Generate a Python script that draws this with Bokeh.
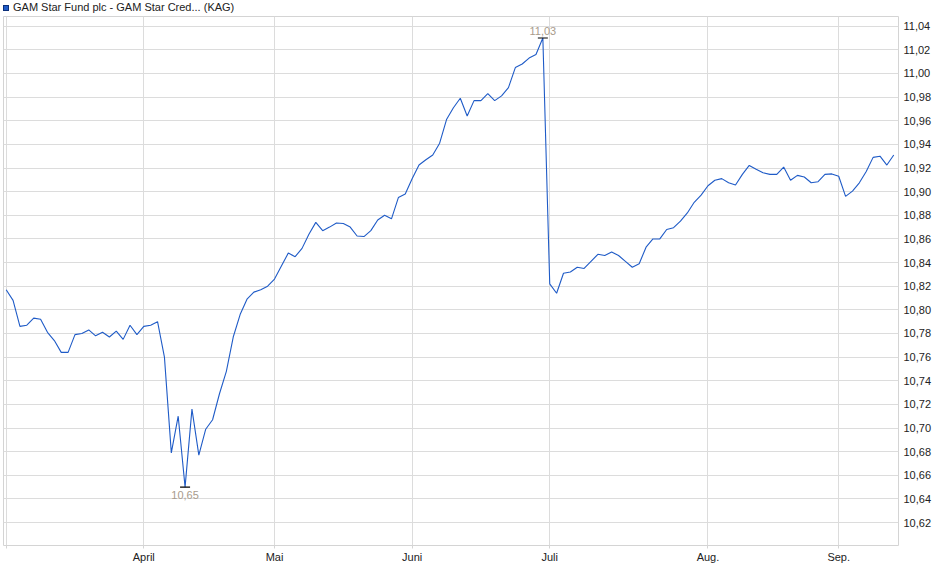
from bokeh.plotting import figure
from bokeh.layouts import column
from bokeh.models import (ColumnDataSource, FixedTicker, CustomJSTickFormatter, Label,
                          Range1d, Div)
from bokeh.embed import file_html
from bokeh.resources import INLINE

# ---------------- data ----------------
series_name = "GAM Star Fund plc - GAM Star Cred... (KAG)"

prices = [
    10.817, 10.808, 10.786, 10.787, 10.793, 10.792, 10.781, 10.774, 10.764, 10.764,
    10.779, 10.780, 10.783, 10.778, 10.781, 10.777, 10.782, 10.775, 10.787, 10.779,
    10.786, 10.787, 10.790, 10.760, 10.679, 10.710, 10.650, 10.716, 10.677, 10.699,
    10.707, 10.729, 10.748, 10.777, 10.796, 10.809, 10.815, 10.817, 10.820, 10.826,
    10.837, 10.848, 10.845, 10.852, 10.864, 10.874, 10.867, 10.870, 10.8735, 10.873,
    10.870, 10.8625, 10.862, 10.867, 10.876, 10.880, 10.877, 10.895, 10.898, 10.911,
    10.9225, 10.927, 10.931, 10.941, 10.961, 10.971, 10.979, 10.964, 10.977, 10.977,
    10.983, 10.977, 10.981, 10.988, 11.005, 11.008, 11.013, 11.016, 11.030, 10.822,
    10.814, 10.831, 10.832, 10.836, 10.835, 10.841, 10.847, 10.846, 10.849, 10.846,
    10.841, 10.836, 10.839, 10.853, 10.860, 10.860, 10.868, 10.8695, 10.875, 10.882,
    10.891, 10.897, 10.905, 10.9096, 10.911, 10.9075, 10.9056, 10.9146, 10.9222, 10.919,
    10.916, 10.9146, 10.9146, 10.9208, 10.9096, 10.9138, 10.9124, 10.9075, 10.9084, 10.9146,
    10.915, 10.913, 10.896, 10.9005, 10.9075, 10.917, 10.929, 10.930, 10.9225, 10.931,
]

# month labels and the trading-day index where each month starts
month_names = ["", "April", "Mai", "Juni", "Juli", "Aug.", "Sep."]
month_start_idx = [0, 20, 39, 59, 79, 102, 121]

y_ticks = [10.62, 10.64, 10.66, 10.68, 10.70, 10.72, 10.74, 10.76, 10.78, 10.80, 10.82,
           10.84, 10.86, 10.88, 10.90, 10.92, 10.94, 10.96, 10.98, 11.00, 11.02, 11.04]

# ---------------- figure ----------------
FONT = "Liberation Sans"
LINE_COLOR = "#1f5bc7"
idx = list(range(len(prices)))
src = ColumnDataSource(data=dict(x=idx, y=prices))

p = figure(width=940, height=563, output_backend="svg", toolbar_location=None,
           y_axis_location="right",
           x_range=Range1d(-0.39, 129.69), y_range=Range1d(10.6006, 11.0482),
           min_border_left=3, min_border_right=42, min_border_top=0, min_border_bottom=34)
p.background_fill_color = "white"
p.border_fill_color = "white"
p.outline_line_color = "#d4d4d4"
p.outline_line_width = 1

# grid
p.xgrid.grid_line_color = "#dcdcdc"
p.ygrid.grid_line_color = "#dcdcdc"
p.xgrid.grid_line_width = 1
p.ygrid.grid_line_width = 1

# x axis
p.xaxis.ticker = FixedTicker(ticks=month_start_idx)
p.xaxis.formatter = CustomJSTickFormatter(
    args=dict(pos=month_start_idx, names=month_names),
    code="const i = pos.indexOf(Math.round(tick)); return i >= 0 ? names[i] : '';")
p.xaxis.axis_line_color = None
p.xaxis.major_tick_line_color = "#d4d4d4"
p.xaxis.major_tick_out = 3
p.xaxis.major_tick_in = 0
p.xaxis.minor_tick_line_color = None
p.xaxis.major_label_standoff = 2
p.xaxis.major_label_text_font = FONT
p.xaxis.major_label_text_font_size = "11px"
p.xaxis.major_label_text_color = "#222222"

# y axis (right)
p.yaxis.ticker = FixedTicker(ticks=y_ticks)
p.yaxis.formatter = CustomJSTickFormatter(code="return tick.toFixed(2).replace('.', ',');")
p.yaxis.axis_line_color = None
p.yaxis.major_tick_line_color = None
p.yaxis.minor_tick_line_color = None
p.yaxis.major_tick_out = 0
p.yaxis.major_tick_in = 0
p.yaxis.major_label_standoff = 5
p.yaxis.major_label_text_font = FONT
p.yaxis.major_label_text_font_size = "11px"
p.yaxis.major_label_text_color = "#222222"

# price line
p.line("x", "y", source=src, line_color=LINE_COLOR, line_width=1.1)

# min / max markers
i_max = max(idx, key=lambda i: prices[i])
i_min = min(idx, key=lambda i: prices[i])
ext_src = ColumnDataSource(data=dict(x=[i_max, i_min], y=[prices[i_max], prices[i_min]]))
p.scatter("x", "y", source=ext_src, marker="dash", size=10, line_color="black", line_width=1.2)

lab_color = "#a89b8c"
p.add_layout(Label(x=i_max, y=prices[i_max], text=f"{prices[i_max]:.2f}".replace(".", ","),
                   text_align="center", text_baseline="bottom", y_offset=3,
                   text_font=FONT, text_font_size="11px", text_color=lab_color))
p.add_layout(Label(x=i_min, y=prices[i_min], text=f"{prices[i_min]:.2f}".replace(".", ","),
                   text_align="center", text_baseline="top", y_offset=-4,
                   text_font=FONT, text_font_size="11px", text_color=lab_color))

# series title with colour swatch above the plot
swatch = ('<span style="display:inline-block;width:6px;height:6px;'
          f'background:{LINE_COLOR};border:1px solid #0b2f7a;margin-right:4px;'
          'vertical-align:-0px"></span>')
header = Div(text=swatch + series_name, width=940, height=16, margin=(0, 0, 0, 0),
             styles={"font-family": FONT, "font-size": "11px", "color": "#222222",
                     "line-height": "14px", "padding-left": "3px", "white-space": "nowrap"})

layout = column(header, p, spacing=0)

open("out.html", "w").write(file_html(layout, INLINE))
